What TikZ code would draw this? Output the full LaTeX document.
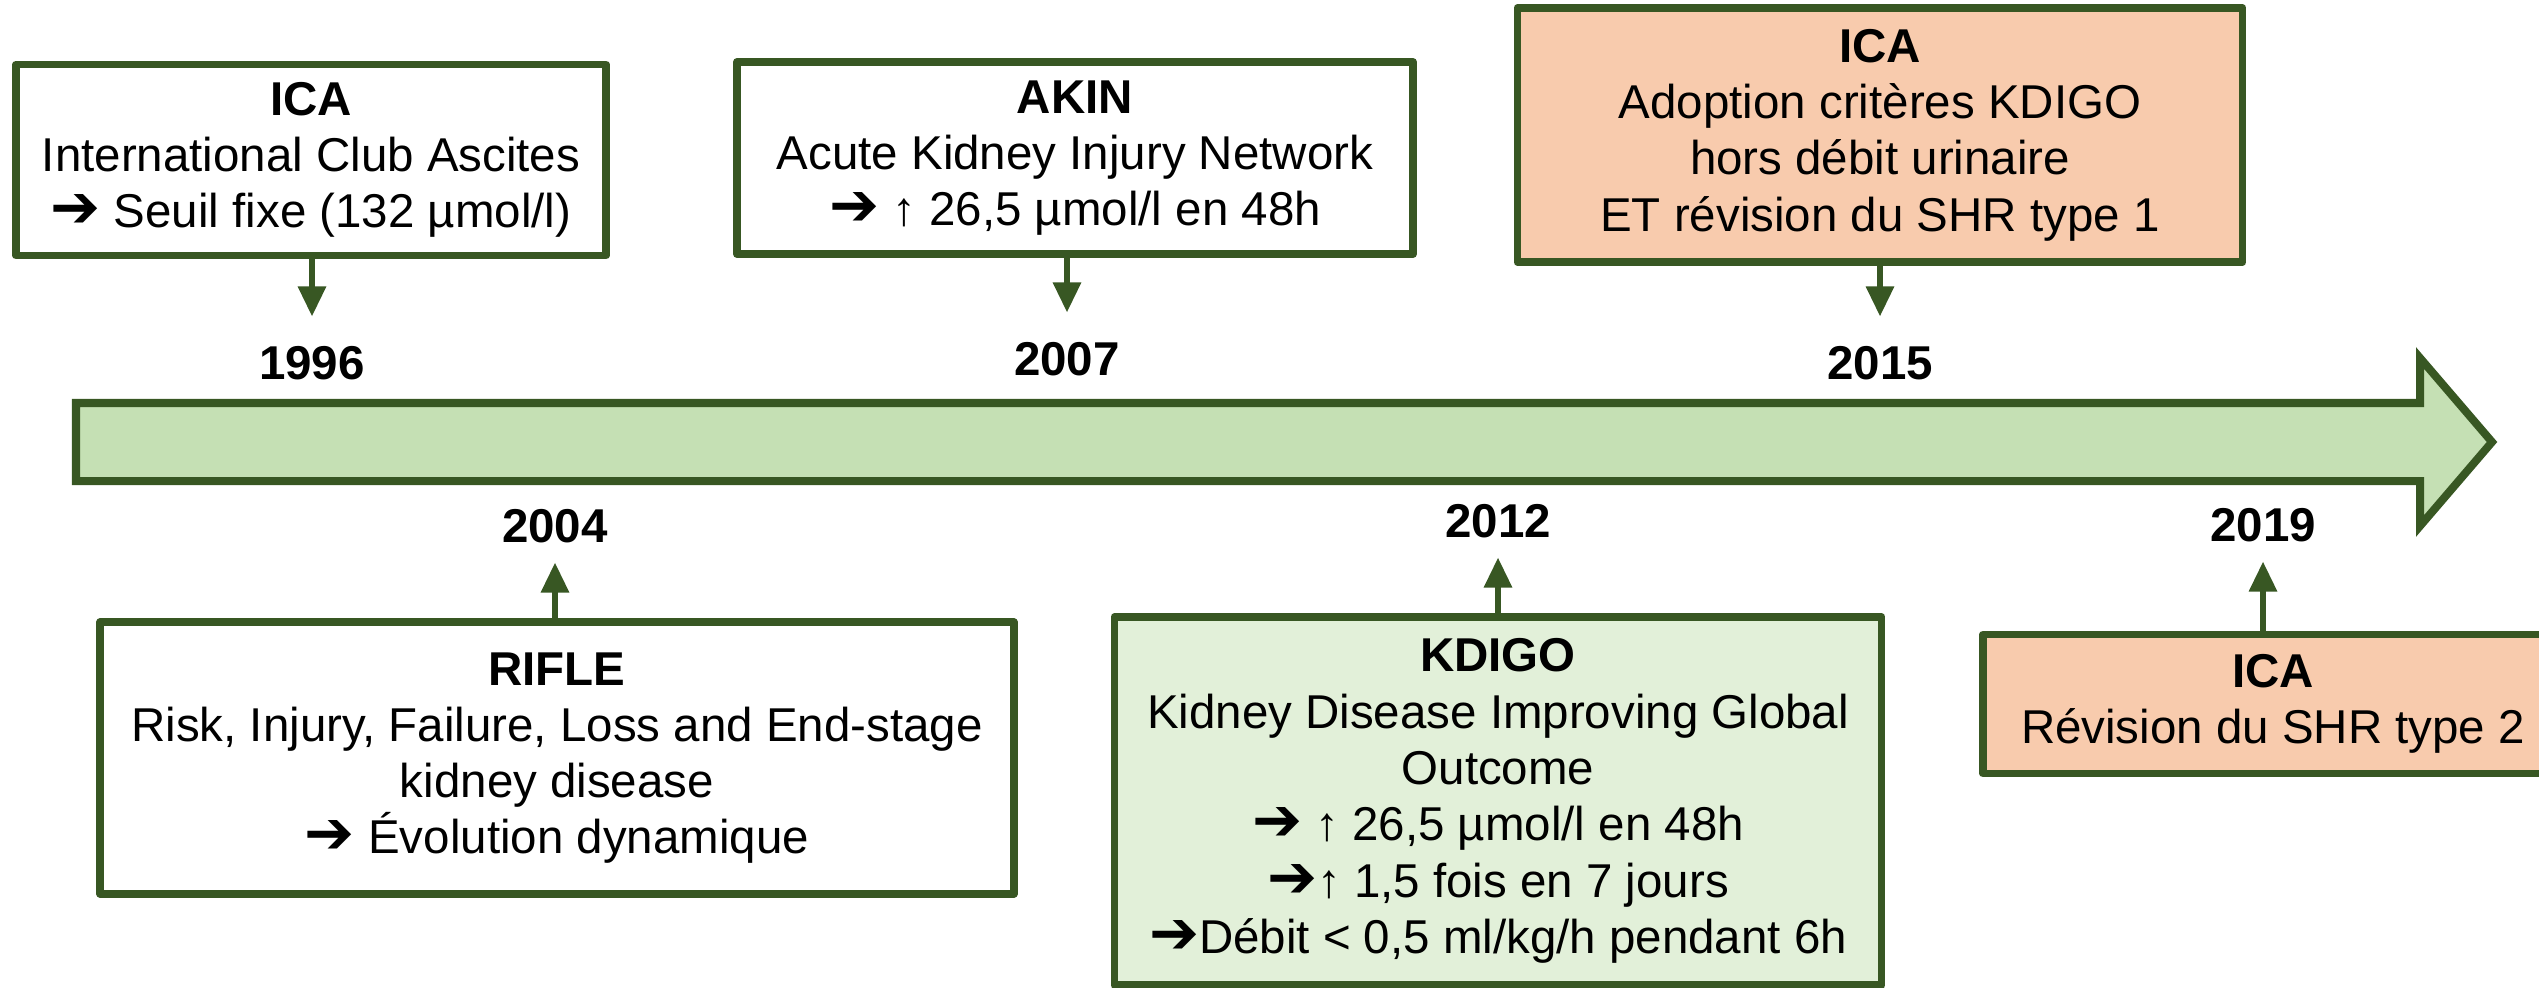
\documentclass[tikz,border=0pt]{standalone}
\usepackage{fontspec}
\setmainfont{Liberation Sans}
\newfontfamily\dejavu{DejaVu Sans}
\usetikzlibrary{arrows.meta}
\definecolor{vertfonce}{HTML}{385723}
\definecolor{vertclair}{HTML}{C5E0B4}
\definecolor{vertpale}{HTML}{E2F0D9}
\definecolor{saumon}{HTML}{F8CBAD}
\newcommand{\fl}{{\fontsize{17}{16}\dejavu\bfseries ➔}}
\tikzset{
  evt/.style={draw=vertfonce, fill=white, line width=0.075cm, line join=round,
    align=center, inner sep=0pt, font=\fontsize{13.5}{16}\selectfont},
  annee/.style={font=\fontsize{13.5}{16.2}\selectfont\bfseries, inner xsep=0pt, inner ysep=0.29cm},
  anneebas/.style={annee, inner ysep=0.19cm},
  lien/.style={draw=vertfonce, line width=0.06cm, -{Triangle[width=0.27cm,length=0.3cm]}}
}
\begin{document}
\begin{tikzpicture}[x=0.01cm, y=-0.01cm]
  \useasboundingbox (0,0) rectangle (2539,988);
  \draw[vertfonce, fill=vertclair, line width=0.08cm] (76,403) -- (2420,403) -- (2420,358) -- (2492,442)
    -- (2420,526) -- (2420,481) -- (76,481) -- cycle;

  \node[evt, minimum width=5.90cm, minimum height=1.91cm] (ica96) at (311,160)
    {\textbf{ICA}\\International Club Ascites\\\fl{} Seuil fixe (132 µmol/l)};
  \node[evt, minimum width=6.76cm, minimum height=1.92cm] (akin07) at (1075,158)
    {\textbf{AKIN}\\Acute Kidney Injury Network\\\fl{} ↑ 26,5 µmol/l en 48h};
  \node[evt, fill=saumon, minimum width=7.25cm, minimum height=2.54cm] (ica15) at (1880,135)
    {\textbf{ICA}\\Adoption critères KDIGO\\hors débit urinaire\\ET révision du SHR type 1};
  \node[evt, minimum width=9.13cm, minimum height=2.72cm] (rifle04) at (557,758)
    {\textbf{RIFLE}\\Risk, Injury, Failure, Loss and End-stage\\kidney disease\\\fl{} Évolution dynamique};
  \node[evt, fill=vertpale, minimum width=7.67cm, minimum height=3.68cm] (kdigo12) at (1498,801)
    {\textbf{KDIGO}\\Kidney Disease Improving Global\\Outcome\\\fl{} ↑ 26,5 µmol/l en 48h\\\fl↑ 1,5 fois en 7 jours\\\fl Débit < 0,5 ml/kg/h pendant 6h};
  \node[evt, fill=saumon, minimum width=5.80cm, minimum height=1.39cm] (ica19) at (2273,704)
    {\textbf{ICA}\\Révision du SHR type 2};

  \node[annee] (a96) at (312,363) {1996};
  \node[annee] (a07) at (1067,359) {2007};
  \node[annee] (a15) at (1880,363) {2015};
  \node[anneebas] (a04) at (555,526) {2004};
  \node[anneebas] (a12) at (1498,521) {2012};
  \node[anneebas] (a19) at (2263,525) {2019};

  \draw[lien] (ica96.south -| a96) -- (a96);
  \draw[lien] (akin07.south -| a07) -- (a07);
  \draw[lien] (ica15.south -| a15) -- (a15);
  \draw[lien] (rifle04.north -| a04) -- (a04);
  \draw[lien] (kdigo12.north -| a12) -- (a12);
  \draw[lien] (ica19.north -| a19) -- (a19);
\end{tikzpicture}
\end{document}
